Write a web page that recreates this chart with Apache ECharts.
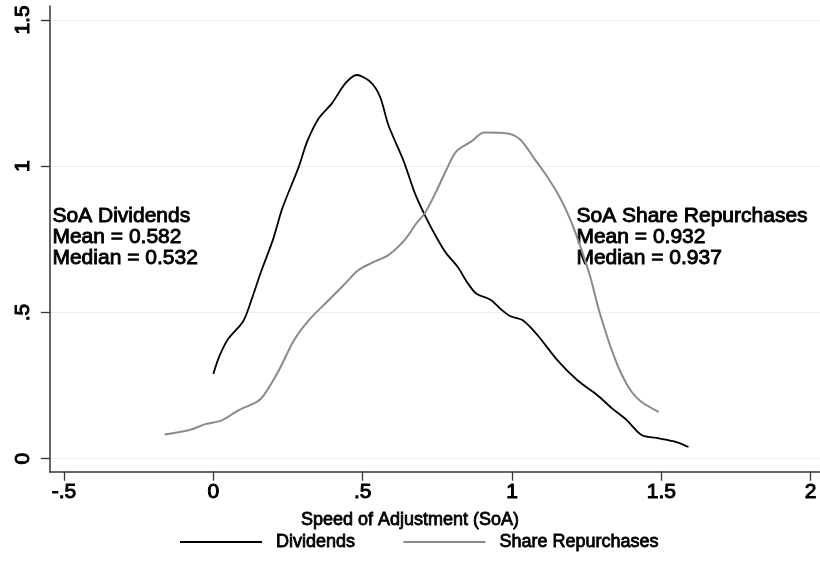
<!DOCTYPE html>
<html>
<head>
<meta charset="utf-8">
<script src="https://cdn.jsdelivr.net/npm/echarts@6/dist/echarts.min.js"></script>
<style>html,body{margin:0;padding:0;background:#fff}#c{width:820px;height:578px}</style>
</head>
<body>
<div id="c"></div>
<script>
var divX = [0, 0.02, 0.05, 0.1, 0.13, 0.16, 0.2, 0.231, 0.286, 0.314, 0.353, 0.397, 0.442, 0.48, 0.525, 0.558, 0.586, 0.636, 0.675, 0.708, 0.746, 0.78, 0.818, 0.852, 0.88, 0.929, 0.963, 0.995, 1.035, 1.085, 1.151, 1.218, 1.285, 1.334, 1.384, 1.434, 1.484, 1.551, 1.591];
var divY = [0.29, 0.35, 0.41, 0.47, 0.55, 0.64, 0.75, 0.856, 0.998, 1.084, 1.164, 1.215, 1.283, 1.312, 1.289, 1.238, 1.141, 1.021, 0.907, 0.833, 0.759, 0.702, 0.656, 0.600, 0.565, 0.543, 0.511, 0.487, 0.474, 0.423, 0.338, 0.269, 0.218, 0.173, 0.132, 0.081, 0.071, 0.057, 0.04];
var shX = [-0.163, -0.08, -0.024, 0.026, 0.087, 0.147, 0.17, 0.22, 0.27, 0.32, 0.386, 0.436, 0.486, 0.536, 0.586, 0.641, 0.680, 0.708, 0.746, 0.780, 0.813, 0.863, 0.907, 0.985, 1.029, 1.074, 1.118, 1.162, 1.196, 1.229, 1.262, 1.285, 1.301, 1.334, 1.368, 1.401, 1.434, 1.491];
var shY = [0.083, 0.098, 0.119, 0.13, 0.167, 0.195, 0.218, 0.303, 0.405, 0.474, 0.542, 0.593, 0.645, 0.672, 0.696, 0.748, 0.805, 0.839, 0.913, 0.987, 1.050, 1.084, 1.115, 1.112, 1.090, 1.027, 0.964, 0.890, 0.816, 0.725, 0.622, 0.531, 0.474, 0.371, 0.286, 0.228, 0.194, 0.16];
var seriesNames = ['Dividends', 'Share Repurchases'];
var xTickValues = [-0.5, 0, 0.5, 1, 1.5, 2];
var xTickLabels = ['-.5', '0', '.5', '1', '1.5', '2'];
var yTickValues = [0, 0.5, 1, 1.5];
var yTickLabels = ['0', '.5', '1', '1.5'];
var xTitle = 'Speed of Adjustment (SoA)';
var noteDiv = ['SoA Dividends', 'Mean = 0.582', 'Median = 0.532'];
var noteShare = ['SoA Share Repurchases', 'Mean = 0.932', 'Median = 0.937'];

function lab(vals, labs) {
  return function (v) {
    for (var i = 0; i < vals.length; i++) if (Math.abs(vals[i] - v) < 1e-6) return labs[i];
    return '';
  };
}
function pairs(xs, ys) { return xs.map(function (x, i) { return [x, ys[i]]; }); }

var FONT = '"Liberation Sans", Arial, sans-serif';
var HEAVY = { textBorderColor: '#000', textBorderWidth: 1.0 };
var chart = echarts.init(document.getElementById('c'), null, { renderer: 'canvas' });
chart.setOption({
  animation: false,
  backgroundColor: '#fff',
  textStyle: { fontFamily: FONT, color: '#000' },
  grid: [
    { left: 64, right: 5.5, top: 20, bottom: 119.3 },
    { left: 50, right: 0, top: 20, bottom: 119.3 },
    { left: 50, right: 0, top: 6, bottom: 106 }
  ],
  xAxis: [
    { gridIndex: 0, type: 'value', min: -0.5, max: 2, interval: 0.5, offset: 13,
      axisLine: { show: false, onZero: false }, splitLine: { show: false },
      axisTick: { show: true, length: 9, lineStyle: { color: '#333', width: 1.3 } },
      axisLabel: Object.assign({ margin: 10, fontSize: 21, color: '#000', fontFamily: FONT, formatter: lab(xTickValues, xTickLabels) }, HEAVY) },
    { gridIndex: 1, type: 'value', min: 0, max: 1, show: false },
    { gridIndex: 2, type: 'value', min: 0, max: 1, axisLine: { show: true, onZero: false, lineStyle: { color: '#333', width: 1.5 } },
      axisTick: { show: false }, axisLabel: { show: false }, splitLine: { show: false } }
  ],
  yAxis: [
    { gridIndex: 0, type: 'value', min: 0, max: 1.5, interval: 0.5, offset: 14,
      axisLine: { show: false, onZero: false }, splitLine: { show: false },
      axisTick: { show: true, length: 9, lineStyle: { color: '#333', width: 1.3 } },
      axisLabel: Object.assign({ rotate: 90, margin: 16, fontSize: 21, color: '#000', fontFamily: FONT, formatter: lab(yTickValues, yTickLabels) }, HEAVY) },
    { gridIndex: 1, type: 'value', min: 0, max: 1.5, interval: 0.5,
      axisLine: { show: false }, axisTick: { show: false }, axisLabel: { show: false },
      splitLine: { show: true, lineStyle: { color: '#e9f0f2', width: 1.2 } } },
    { gridIndex: 2, type: 'value', min: 0, max: 1, axisLine: { show: true, onZero: false, lineStyle: { color: '#333', width: 1.5 } },
      axisTick: { show: false }, axisLabel: { show: false }, splitLine: { show: false } }
  ],
  title: { text: xTitle, left: 'center', top: 511, padding: 0,
    textStyle: { fontSize: 18, fontWeight: 'normal', color: '#000', fontFamily: FONT, textBorderColor: '#000', textBorderWidth: 0.8 } },
  legend: {
    left: 180, top: 531, padding: 0, itemWidth: 82, itemHeight: 2, itemGap: 48, icon: 'rect',
    data: seriesNames,
    textStyle: { fontSize: 18, color: '#000', fontFamily: FONT, padding: [0, 0, 0, 9], lineHeight: 22, textBorderColor: '#000', textBorderWidth: 0.8 }
  },
  graphic: [
    { type: 'text', left: 52, top: 205, style: { text: noteDiv.join('\n'), font: '21px ' + FONT, lineHeight: 21.3, fill: '#000', stroke: '#000', lineWidth: 0.9 } },
    { type: 'text', left: 576, top: 205, style: { text: noteShare.join('\n'), font: '21px ' + FONT, lineHeight: 21.3, fill: '#000', stroke: '#000', lineWidth: 0.9 } }
  ],
  series: [
    { name: seriesNames[0], type: 'line', xAxisIndex: 0, yAxisIndex: 0, data: pairs(divX, divY),
      showSymbol: false, symbol: 'none', smooth: 0.3, color: '#000', lineStyle: { color: '#000', width: 1.8 } },
    { name: seriesNames[1], type: 'line', xAxisIndex: 0, yAxisIndex: 0, data: pairs(shX, shY),
      showSymbol: false, symbol: 'none', smooth: 0.3, color: '#8a8a8a', lineStyle: { color: '#8a8a8a', width: 2 } }
  ]
});
</script>
</body>
</html>
